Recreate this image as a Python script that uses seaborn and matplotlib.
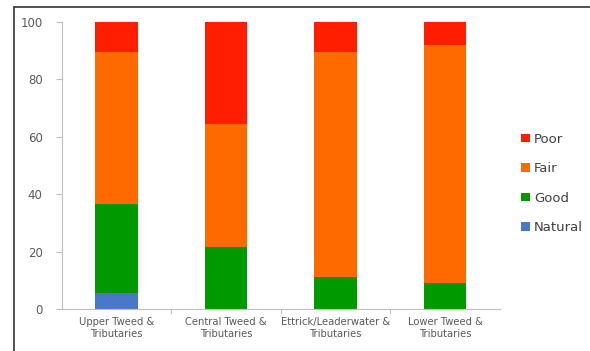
import matplotlib
matplotlib.use("Agg")
import matplotlib.pyplot as plt
from matplotlib.patches import Patch
from matplotlib.lines import Line2D
import numpy as np
import pandas as pd
import seaborn as sns

# Reach names and condition shares (% of length)
reaches = ["Upper Tweed &\nTributaries", "Central Tweed &\nTributaries",
           "Ettrick/Leaderwater &\nTributaries", "Lower Tweed &\nTributaries"]
natural = [5.5, 0, 0, 0]
good = [31, 21.5, 11, 9]
fair = [53, 43, 78.5, 83]
poor = [10.5, 35.5, 10.5, 8]

classes = ["Natural", "Good", "Fair", "Poor"]
colors = {"Natural": "#4a78c8", "Good": "#009a00", "Fair": "#ff6a00", "Poor": "#ff1e00"}

sns.set_style("white")
plt.rcParams["font.family"] = ["DejaVu Sans"]

df = pd.DataFrame({"reach": reaches, "Natural": natural, "Good": good,
                   "Fair": fair, "Poor": poor})
cum = df[classes].cumsum(axis=1)

fig = plt.figure(figsize=(5.9, 3.51), dpi=100)
ax = fig.add_axes([0.105, 0.12, 0.742, 0.817])

# stacked bars: draw cumulative totals from the top class down
for cls in reversed(classes):
    sns.barplot(x=df["reach"], y=cum[cls], color=colors[cls], width=0.39,
                saturation=1, ax=ax, zorder=2, linewidth=0, edgecolor="none")

ax.set_ylim(0, 100)
ax.set_xlim(-0.5, 3.5)
ax.set_yticks(np.arange(0, 101, 20))
ax.set_xlabel("")
ax.set_ylabel("")
for s in ["top", "right"]:
    ax.spines[s].set_visible(False)
for s in ["left", "bottom"]:
    ax.spines[s].set_color("#bfbfbf")
    ax.spines[s].set_linewidth(0.8)
ax.tick_params(axis="y", length=4, width=0.8, color="#bfbfbf", labelsize=8.5,
               labelcolor="#595959", pad=10, left=True)
ax.tick_params(axis="x", length=0, labelsize=7.2, labelcolor="#595959", pad=6)
# category boundary ticks on the x axis
for xb in [0.5, 1.5, 2.5]:
    ax.plot([xb, xb], [0, -1.3], color="#bfbfbf", lw=0.8, clip_on=False)

handles = [Patch(facecolor=colors[c], edgecolor="none") for c in ["Poor", "Fair", "Good", "Natural"]]
leg = fig.legend(handles, ["Poor", "Fair", "Good", "Natural"], loc="upper left",
                 bbox_to_anchor=(0.874, 0.637), frameon=False, fontsize=9.5,
                 handlelength=0.65, handleheight=0.65, handletextpad=0.35,
                 labelspacing=1.25, borderaxespad=0)
for t in leg.get_texts():
    t.set_color("#404040")

# outer frame lines
fig.add_artist(Line2D([14 / 590, 1], [1 - 7 / 351, 1 - 7 / 351], color="#333333", lw=1.2,
                      transform=fig.transFigure))
fig.add_artist(Line2D([14 / 590, 14 / 590], [0, 1 - 7 / 351], color="#333333", lw=1.2,
                      transform=fig.transFigure))

fig.savefig("out.png", dpi=100)
